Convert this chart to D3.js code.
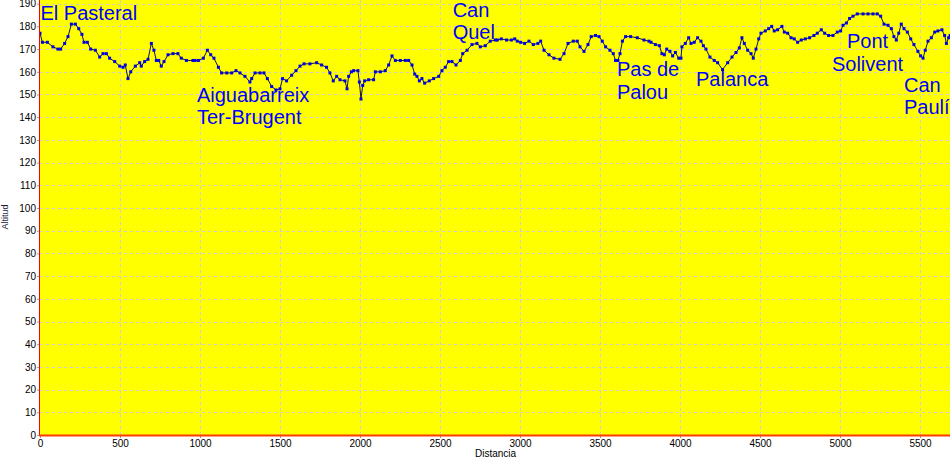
<!DOCTYPE html>
<html>
<head>
<meta charset="utf-8">
<script src="https://cdn.jsdelivr.net/npm/d3@7"></script>
<style>
  body { margin: 0; background: #fff; }
  svg { display: block; font-family: "Liberation Sans", Arial, sans-serif; }
</style>
</head>
<body>
<div class="canvas"></div>
<script>
// profile: distance (m) / altitude (m)
const distances = [
  0, 15, 46, 81, 112, 129, 154, 175, 196, 221, 242, 262, 275, 296, 317, 346, 373, 394, 415, 435,
  467, 498, 519, 533, 550, 567, 596, 623, 633, 654, 675, 696, 712, 727, 742, 758, 775, 800, 831, 862,
  883, 915, 956, 969, 990, 1021, 1046, 1067, 1087, 1115, 1135, 1167, 1198, 1225, 1250, 1281, 1312, 1323, 1344, 1375,
  1400, 1421, 1448, 1475, 1500, 1516, 1541, 1573, 1600, 1625, 1650, 1687, 1729, 1760, 1791, 1812, 1833, 1854, 1875, 1906,
  1919, 1929, 1946, 1960, 1987, 1996, 2006, 2017, 2029, 2054, 2085, 2096, 2127, 2158, 2179, 2200, 2221, 2252, 2283, 2304,
  2325, 2342, 2356, 2371, 2387, 2404, 2433, 2460, 2492, 2512, 2533, 2554, 2575, 2600, 2627, 2642, 2669, 2700, 2731, 2752,
  2783, 2814, 2846, 2858, 2883, 2916, 2946, 2967, 2983, 3004, 3029, 3056, 3083, 3112, 3129, 3150, 3181, 3212, 3250, 3275,
  3300, 3333, 3358, 3375, 3400, 3425, 3445, 3472, 3494, 3514, 3535, 3562, 3583, 3597, 3612, 3625, 3640, 3660, 3691, 3733,
  3775, 3806, 3819, 3846, 3871, 3887, 3902, 3917, 3937, 3954, 3971, 3992, 4006, 4012, 4033, 4054, 4069, 4089, 4110, 4131,
  4146, 4162, 4187, 4214, 4235, 4266, 4298, 4325, 4350, 4371, 4387, 4402, 4423, 4444, 4458, 4475, 4492, 4506, 4533, 4554,
  4573, 4589, 4610, 4637, 4652, 4673, 4694, 4714, 4735, 4758, 4783, 4810, 4837, 4858, 4883, 4904, 4929, 4956, 4983, 5004,
  5019, 5040, 5060, 5081, 5108, 5144, 5175, 5206, 5233, 5254, 5275, 5300, 5321, 5337, 5352, 5367, 5383, 5400, 5421, 5442,
  5462, 5487, 5504, 5519, 5533, 5550, 5571, 5592, 5612, 5637, 5654, 5665, 5679, 5688
];
const altitudes = [
  177, 173, 173, 171, 170, 170, 172.5, 175.5, 181, 181, 179, 176.5, 173, 173, 170, 169.5, 166.5, 168, 168, 166,
  164.5, 162.5, 162, 163, 157, 160, 162.5, 164, 162.5, 164.5, 165.5, 172.5, 169.5, 165, 165, 162.5, 164.5, 167.5, 168, 168,
  166, 165, 165, 165, 165, 166, 169.5, 167.5, 166, 162, 159.5, 159.5, 159.5, 160.5, 159.5, 158, 155.5, 157, 159.5, 159.5,
  159.5, 157, 153.5, 152, 152.5, 157, 156, 158.5, 160.5, 162.5, 163.5, 163.5, 164, 163, 162, 159.5, 156, 158, 156.5, 156,
  152.5, 158, 160, 160.5, 160.5, 155.5, 148, 154, 156, 156.5, 156.5, 160, 160, 160.5, 163, 167, 165, 165, 165, 165,
  163, 159, 158, 156, 157, 155, 156, 157, 158, 160.5, 162, 164.5, 164.5, 163, 165, 168, 169.5, 172, 172.5, 171,
  171.5, 173.5, 174, 174, 174.5, 174, 174, 174.5, 173.5, 173, 172.5, 173.5, 172, 172.5, 173.5, 169.5, 167.5, 166, 165.5, 168,
  172.5, 173.5, 173.5, 171, 169, 172, 175.5, 176, 175.5, 173.5, 171, 169.5, 168, 165, 165, 168, 173.5, 175.5, 175.5, 175,
  174, 173.5, 173, 172, 171.5, 168, 167.5, 170, 169, 167, 168.5, 166, 166, 171, 172.5, 175, 172.5, 173, 175, 173.5,
  171.5, 170, 166.5, 165, 164, 161, 164, 166.5, 168.5, 170.5, 175, 172.5, 169.5, 168, 166, 170, 174.5, 177, 178, 179,
  180, 178, 178.5, 180, 177.5, 177, 175, 174.5, 173, 174, 174.5, 175, 176, 177, 178.5, 177, 176, 176, 177.5, 178,
  180.5, 181.5, 183.5, 184.5, 185.5, 185.5, 185.5, 185.5, 185.5, 184.5, 181, 180.5, 179, 175.5, 174, 177, 181, 179, 177.5, 174.5,
  172, 169, 167, 166, 169.5, 173.5, 175, 177.5, 178, 178.5, 176, 172.5, 175, 176
];

const yTicks = d3.range(0, 200, 10);
const xTicks = d3.range(0, 6000, 500);

// place names, anchored at (distance, altitude) of their first line
const placeNames = [
  ['El Pasteral'], ['Aiguabarreix', 'Ter-Brugent'], ['Can', 'Quel'], ['Pas de', 'Palou'],
  ['Palanca'], ['Pont', 'Solivent'], ['Can', 'Paulí']
];
const placeDist = [3, 981, 2579, 3606, 4100, 5172, 5400];
const placeAlt = [182.6, 146.8, 184.3, 158.1, 153.7, 170.4, 151.2];
const placeAlign = ['start', 'start', 'start', 'start', 'start', 'middle', 'start'];

const dims = { width: 950, height: 461 };
const plot = { left: 40, right: 950, top: 0, bottom: 435 };

const x = d3.scaleLinear().domain([0, 5687.5]).range([plot.left, plot.right]);
const y = d3.scaleLinear().domain([0, 190]).range([435, 3.7]);

const svg = d3.select('.canvas').append('svg')
  .attr('width', dims.width)
  .attr('height', dims.height);

svg.append('rect')
  .attr('x', plot.left).attr('y', plot.top)
  .attr('width', plot.right - plot.left)
  .attr('height', plot.bottom - plot.top)
  .attr('fill', '#ffff00');

// grid
const grid = svg.append('g')
  .attr('stroke', '#cfcfcf')
  .attr('stroke-dasharray', '3,3')
  .attr('shape-rendering', 'crispEdges');

grid.selectAll('.hgrid')
  .data(yTicks.filter(t => t > 0))
  .enter().append('line')
  .attr('x1', plot.left).attr('x2', plot.right)
  .attr('y1', d => Math.round(y(d)) + 0.5)
  .attr('y2', d => Math.round(y(d)) + 0.5);

grid.selectAll('.vgrid')
  .data(xTicks.filter(t => t > 0))
  .enter().append('line')
  .attr('y1', plot.top).attr('y2', plot.bottom)
  .attr('x1', d => Math.round(x(d)) + 0.5)
  .attr('x2', d => Math.round(x(d)) + 0.5);

// axes
const yAxis = svg.append('g')
  .attr('transform', `translate(${plot.left},0)`)
  .call(d3.axisLeft(y).tickValues(yTicks).tickFormat(d3.format('d')).tickSize(3).tickPadding(1));

const xAxis = svg.append('g')
  .attr('transform', `translate(0,${plot.bottom})`)
  .call(d3.axisBottom(x).tickValues(xTicks).tickFormat(d3.format('d')).tickSize(3).tickPadding(2));

[yAxis, xAxis].forEach(ax => {
  ax.select('.domain').remove();
  ax.selectAll('line').attr('stroke', '#999');
  ax.selectAll('text')
    .attr('fill', '#000')
    .style('font-size', '10px')
    .style('font-family', '"Liberation Sans", Arial, sans-serif');
});

svg.append('line')
  .attr('x1', plot.left - 0.5).attr('x2', plot.left - 0.5)
  .attr('y1', plot.top).attr('y2', plot.bottom)
  .attr('stroke', '#ff0000');

svg.append('line')
  .attr('x1', plot.left - 1).attr('x2', plot.right)
  .attr('y1', plot.bottom + 0.5).attr('y2', plot.bottom + 0.5)
  .attr('stroke', '#ff3c00')
  .attr('stroke-width', 2);

svg.append('text')
  .attr('x', 475).attr('y', 457)
  .style('font-size', '10px')
  .attr('fill', '#000')
  .text('Distancia');

svg.append('text')
  .attr('transform', 'translate(8,217) rotate(-90)')
  .attr('text-anchor', 'middle')
  .style('font-size', '9px')
  .attr('fill', '#1a1a40')
  .text('Altitud');

// profile
const points = distances.map((d, i) => ({ d: d, a: altitudes[i] }));

svg.append('clipPath').attr('id', 'clip')
  .append('rect')
  .attr('x', plot.left).attr('y', plot.top)
  .attr('width', plot.right - plot.left).attr('height', plot.bottom - plot.top);

const profile = svg.append('g').attr('clip-path', 'url(#clip)');

const lineGen = d3.line()
  .x(p => x(p.d))
  .y(p => y(p.a));

profile.append('path')
  .datum(points)
  .attr('d', lineGen)
  .attr('fill', 'none')
  .attr('stroke', '#10103a')
  .attr('stroke-width', 1);

profile.selectAll('.marker')
  .data(points)
  .enter().append('rect')
  .attr('class', 'marker')
  .attr('x', p => x(p.d) - 1.5)
  .attr('y', p => y(p.a) - 1.5)
  .attr('width', 3)
  .attr('height', 3)
  .attr('fill', '#0000e6');

// place labels
placeNames.forEach((lines, i) => {
  const t = svg.append('text')
    .attr('x', x(placeDist[i]))
    .attr('y', y(placeAlt[i]))
    .attr('text-anchor', placeAlign[i])
    .attr('fill', '#0000ff')
    .style('font-size', '20px');
  lines.forEach((ln, j) => {
    t.append('tspan')
      .attr('x', x(placeDist[i]))
      .attr('dy', j === 0 ? 0 : 22.5)
      .text(ln);
  });
});
</script>
</body>
</html>
